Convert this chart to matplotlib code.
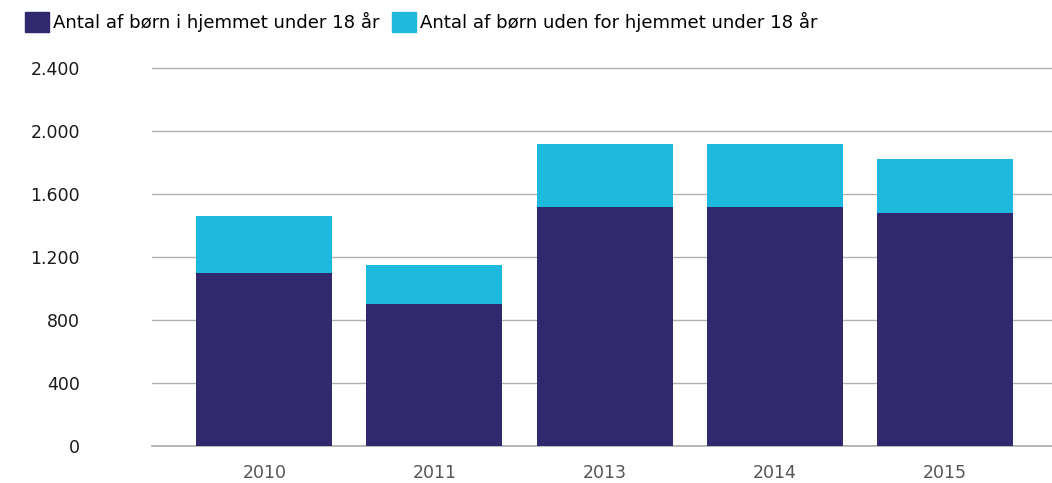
import matplotlib.pyplot as plt
from matplotlib.patches import Patch
from matplotlib.ticker import FuncFormatter

years = ['2010', '2011', '2013', '2014', '2015']
hjemme = [1100, 900, 1520, 1520, 1480]
ude = [360, 250, 400, 400, 345]
labels = ['Antal af børn i hjemmet under 18 år', 'Antal af børn uden for hjemmet under 18 år']
dark = '#30296d'
light = '#1dbade'

plt.rcParams['font.family'] = 'DejaVu Sans'

fig = plt.figure(figsize=(10.52, 4.83), dpi=100)
ax = fig.add_axes([0.1445, 0.0766, 0.8555, 0.7984])
x = range(len(years))
ax.bar(x, hjemme, width=0.8, color=dark, zorder=3)
ax.bar(x, ude, width=0.8, bottom=hjemme, color=light, zorder=3)

ax.set_xlim(-0.66, 4.63)
ax.set_ylim(0, 2450)
ax.set_yticks(range(0, 2401, 400))
ax.yaxis.set_major_formatter(FuncFormatter(lambda v, p: f'{int(v):,}'.replace(',', '.')))
ax.set_xticks(list(x))
ax.set_xticklabels(years)
ax.grid(axis='y', color='#b0b0b0', linewidth=1.0, zorder=0)
ax.axhline(0, color='#b0b0b0', linewidth=1.3, zorder=2, clip_on=False)
for s in ax.spines.values():
    s.set_visible(False)
ax.tick_params(axis='y', length=0, pad=52, labelsize=12.5, labelcolor='#1a1a1a')
ax.tick_params(axis='x', length=0, pad=13, labelsize=12.5, labelcolor='#555555')

handles = [Patch(color=dark), Patch(color=light)]
fig.legend(handles, labels, loc='upper left', bbox_to_anchor=(25 / 1052, 1 - 12 / 483), ncol=2,
           frameon=False, fontsize=13.1, borderpad=0, borderaxespad=0,
           handlelength=1.3, handleheight=1.3, handletextpad=0.22,
           columnspacing=0.7)

fig.savefig('out.png', dpi=100)
